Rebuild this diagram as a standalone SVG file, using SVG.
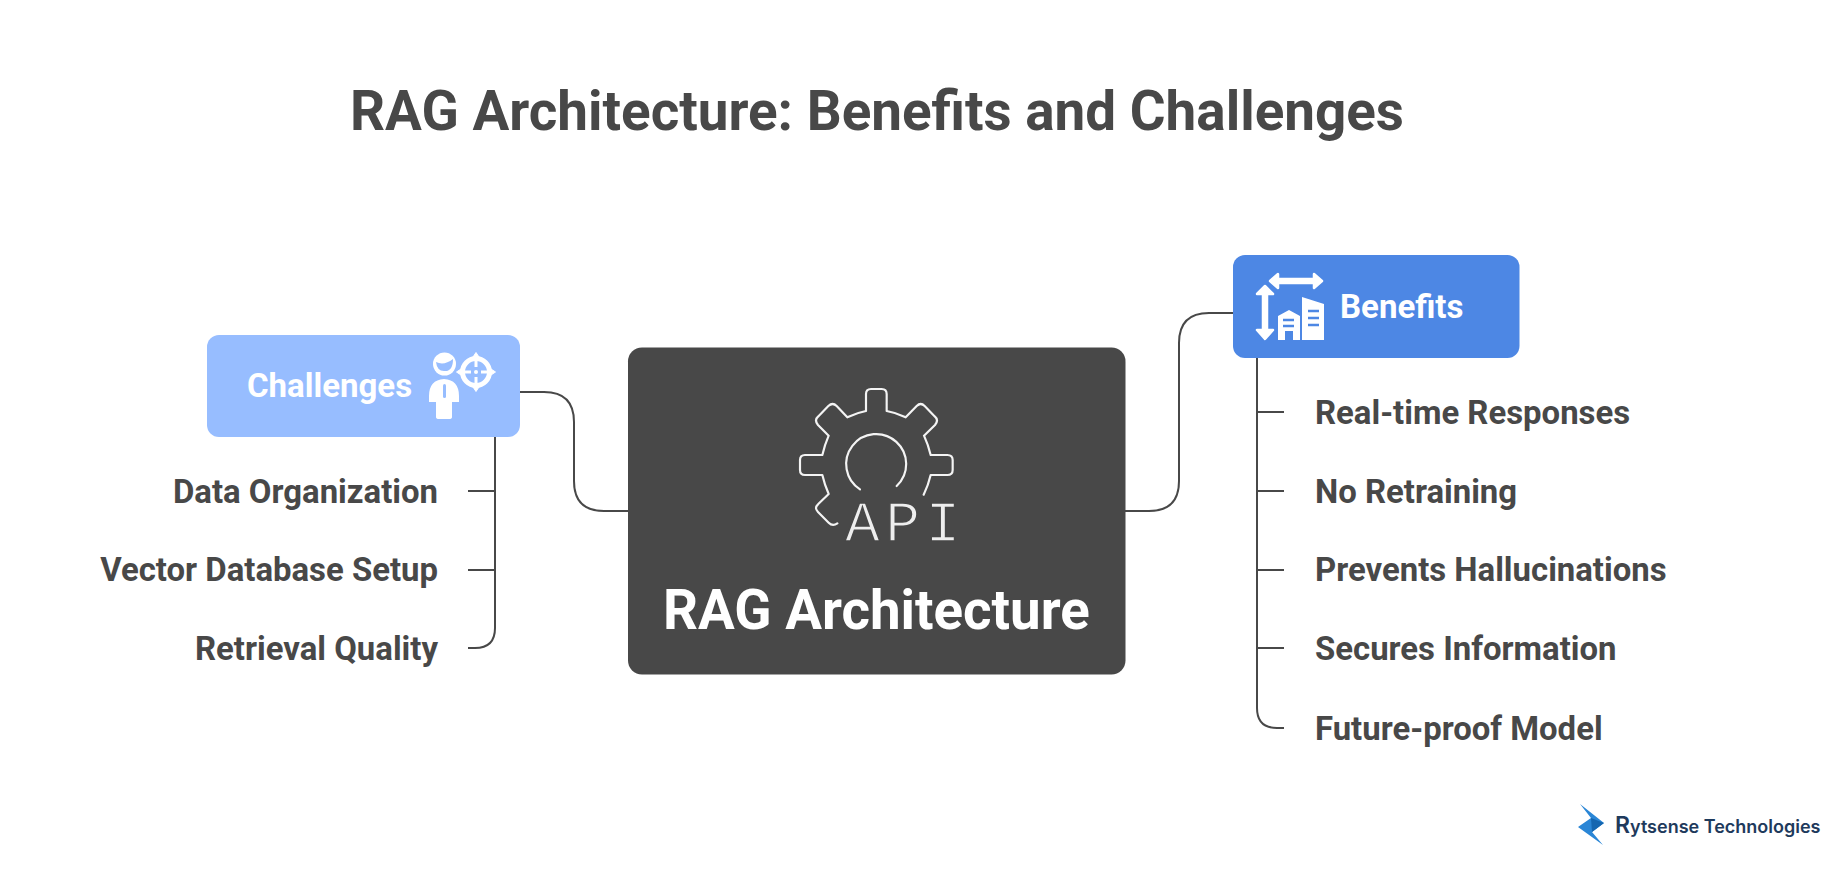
<svg xmlns="http://www.w3.org/2000/svg" width="1848" height="876" viewBox="0 0 1848 876">
<style>
text{font-family:Roboto,"Liberation Sans",sans-serif;font-weight:700}
.l{font-size:32.9px;fill:#484848}
.h{font-size:33px;fill:#fff}
.c{fill:none;stroke:#484848;stroke-width:2}
.w{fill:#fff}
.ic{fill:none;stroke:#f4f4f4;stroke-width:6.5;stroke-linecap:round;stroke-linejoin:round}
</style>
<rect width="1848" height="876" fill="#fff"/>
<text id="title" x="350" y="130" font-size="54.8" fill="#484848">RAG Architecture: Benefits and Challenges</text>
<g id="connectors">
<path class="c" d="M520 392H544Q574 392 574 422V481Q574 511 604 511H628"/>
<path class="c" d="M1125 511H1149Q1179 511 1179 481V343Q1179 313 1209 313H1233"/>
<path class="c" d="M495 437V628Q495 648 475 648H468M468 491H495M468 570H495"/>
<path class="c" d="M1257 358V708Q1257 728 1277 728H1284M1257 412H1284M1257 491H1284M1257 570H1284M1257 648H1284"/>
</g>
<g id="center">
<rect x="628" y="347.500" width="497.500" height="327" rx="14" fill="#484848"/>
<g transform="translate(760 370) scale(.33333)">
<path class="ic" d="M232 460Q218 470 206 458L174 426Q162 414 174 403L206 372Q194 345 187 315H135Q120 315 120 300V270Q120 255 135 255H187Q194 225 206 197L174 165Q162 150 174 140L205 108Q218 96 230 108L262 142Q290 128 318 123V72Q318 57 333 57H365Q380 57 380 72V123Q410 128 437 142L470 108Q482 96 494 108L525 140Q537 150 525 165L492 197Q505 225 512 255H562Q578 255 578 270V300Q578 315 562 315H512Q505 345 491 374"/>
<path class="ic" d="M300 358A90 90 0 1 1 410 348"/>
</g>
<text x="845" y="541" font-size="58" letter-spacing="5.500" style="font-family:'Liberation Mono',monospace;font-weight:400" fill="#eee" stroke="#484848" stroke-width="1.500">API</text>
<text x="663" y="629" font-size="54.700" fill="#fff">RAG Architecture</text>
</g>
<g id="challenges">
<rect x="207" y="335" width="313" height="102" rx="12" fill="#97bdff"/>
<text class="h" x="247" y="397">Challenges</text>
<circle class="w" cx="444.500" cy="364" r="11.500"/>
<path d="M436 362Q444 366 453 359Q453 372 444 371Q437 371 436 362Z" fill="#97bdff"/>
<path class="w" d="M429 402V396Q429 380 444 379Q459 380 459 396V402H452V417Q452 419 449 419H439Q436 419 436 417V402Z"/>
<rect x="443" y="384" width="3" height="14" rx="1.500" fill="#97bdff"/>
<circle cx="476" cy="372" r="13.500" fill="none" stroke="#fff" stroke-width="5"/>
<path class="w" d="M476 352.500l4 6h-8zM476 391.500l4-6h-8zM456.500 372l6-4v8zM495.500 372l-6-4v8z" stroke="#fff" stroke-linejoin="round"/>
<path d="M476 361v6M476 377v6M465 372h6M481 372h6" stroke="#fff" stroke-width="3"/>
<circle class="w" cx="476" cy="372" r="2"/>
</g>
<g id="challenge-items">
<text class="l" x="438" y="502.500" text-anchor="end">Data Organization</text>
<text class="l" x="438" y="581" text-anchor="end">Vector Database Setup</text>
<text class="l" x="438" y="660" text-anchor="end">Retrieval Quality</text>
</g>
<g id="benefits">
<rect x="1233" y="255" width="286.500" height="103" rx="12" fill="#4d87e4"/>
<text class="h" x="1340" y="318">Benefits</text>
<path class="w" d="M1270 281l8-7v5h36v-5l8 7-8 7v-5h-36v5zM1265 286l8 8h-6v36h6l-8 9-8-9h6v-36h-6z" stroke="#fff" stroke-linejoin="round" stroke-width="2.500"/>
<path class="w" d="M1278 340V316L1289 310L1300 316V340H1293V331H1285V340Z"/>
<path class="w" d="M1302 340V297L1324 304V340Z"/>
<path d="M1283 320h11M1283 326h11M1308 311h11M1308 318h11M1308 325h11" stroke="#4d87e4" stroke-width="2.500" fill="none"/>
</g>
<g id="benefit-items">
<text class="l" x="1315" y="423.500">Real-time Responses</text>
<text class="l" x="1315" y="502.500">No Retraining</text>
<text class="l" x="1315" y="581">Prevents Hallucinations</text>
<text class="l" x="1315" y="660">Secures Information</text>
<text class="l" x="1315" y="739.500">Future-proof Model</text>
</g>
<g id="logo">
<path fill="#2a86d6" d="M1580 804L1604 823L1591 818ZM1591 818L1578 827L1603 845L1592 832L1604 823Z"/>
<path fill="#1566b0" d="M1591 818L1604 823L1592 832Z"/>
<text x="1615" y="833" font-size="18" fill="#1e3a5c" style="font-family:Inter,sans-serif;font-weight:600"><tspan font-size="23">R</tspan>ytsense Technologies</text>
</g>
</svg>
